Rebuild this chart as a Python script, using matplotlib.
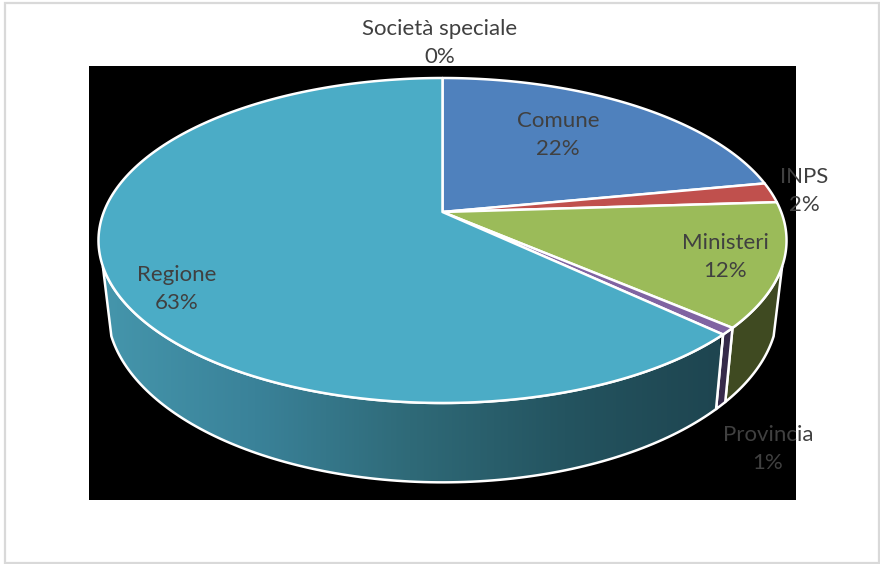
import numpy as np
import matplotlib.pyplot as plt
from matplotlib.colors import LinearSegmentedColormap
from matplotlib.patches import Rectangle

labels = ['Comune', 'INPS', 'Ministeri', 'Provincia', 'Regione', 'Società speciale']
values = [22, 2, 12.3, 0.7, 63, 0]
colors = ['#4f81bd', '#c0504d', '#9bbb59', '#8064a2', '#4bacc6', '#4bacc6']
label_pos = [(558, 135), (804, 191), (725, 257), (768, 449), (177, 289), (440, 43)]

plt.rcParams['font.family'] = ['Lato', 'DejaVu Sans']

K = 0.1753


def rim(theta, cx=442.5, cy=212, a=157.5, c=338.7, sx=1.0, sy=1.0):
    # angle in degrees clockwise from the top, perspective circle in pixels
    t = np.radians(theta)
    u, v = np.sin(t), np.cos(t)
    w = 1 + K * v
    return cx + sx * c * u / w, cy - sy * a * v / w


def low(theta):
    return rim(theta, cy=278, sx=0.975, sy=1.07)


def wall(t0, t1):
    t = np.linspace(t0, t1, 120)
    x0, y0 = rim(t)
    x1, y1 = low(t[::-1])
    return np.r_[x0, x1], np.r_[y0, y1]


fig = plt.figure(figsize=(8.8, 5.64), dpi=100)
ax = fig.add_axes([0, 0, 1, 1])
ax.axis('off')

ax.add_patch(Rectangle((5, 3), 874, 560, fc='white', ec='#d9d9d9', lw=1.6))
ax.add_patch(Rectangle((89, 66), 707, 434, fc='black', ec='none'))

edges = np.cumsum([0] + values) / sum(values) * 360

# side walls, only the part facing the viewer
left_end = 251
right_end = 109

x, y = wall(right_end, edges[3])
ax.fill(x, y, fc='#3f4a21', ec='white', lw=1.8, joinstyle='round')
x, y = wall(edges[3], edges[4])
ax.fill(x, y, fc='#362a4a', ec='white', lw=1.8, joinstyle='round')

x, y = wall(edges[4], left_end)
shade = LinearSegmentedColormap.from_list('wall', ['#4596ac', '#3a8299', '#2f6a78', '#245460', '#1e4550'])
clip = ax.fill(x, y, fc='none', ec='white', lw=1.8, zorder=3)[0]
img = ax.imshow(np.linspace(0, 1, 256)[None, :], extent=(100, 720, 500, 200), aspect='auto',
                cmap=shade, zorder=2)
img.set_clip_path(clip)

# top face
for i in range(len(values)):
    if values[i] == 0:
        continue
    t = np.linspace(edges[i], edges[i + 1], 200)
    x, y = rim(t)
    ax.fill(np.r_[442.5, x], np.r_[212, y], fc=colors[i], ec='white', lw=1.8, zorder=4, joinstyle='round')

for i in range(len(labels)):
    pct = round(values[i] / sum(values) * 100)
    ax.text(label_pos[i][0], label_pos[i][1], '%s\n%d%%' % (labels[i], pct), ha='center', va='center',
            fontsize=16, color='#404040', linespacing=1.45, zorder=5)

ax.set_xlim(0, 880)
ax.set_ylim(564, 0)
fig.savefig('out.png', dpi=100)
